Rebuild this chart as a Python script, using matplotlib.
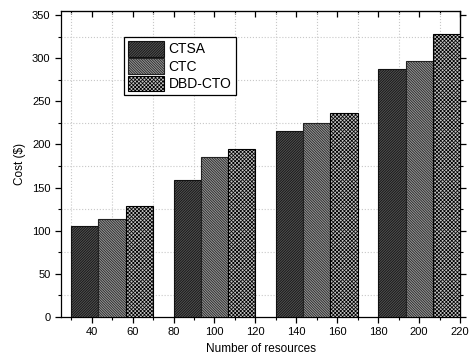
import matplotlib
matplotlib.use('Agg')
import matplotlib.pyplot as plt
import numpy as np

plt.rcParams['font.family'] = ['Liberation Sans', 'DejaVu Sans']
plt.rcParams['hatch.linewidth'] = 0.55

group_centers = [50, 100, 150, 200]
series_names = ['CTSA', 'CTC', 'DBD-CTO']
ctsa = [105, 159, 215, 287]
ctc = [114, 185, 225, 297]
dbd_cto = [129, 195, 237, 328]

bar_w = 40 / 3.0
faces = ['#505050', '#959595', '#c4c4c4']
hatches = ['/' * 13, '\\' * 13, 'x' * 9]
hatch_cols = ['#111111', '#222222', '#000000']

fig = plt.figure(figsize=(4.69, 3.62), dpi=100)
ax = fig.add_axes([0.130, 0.125, 0.851, 0.845])

x = np.array(group_centers, dtype=float)
for i, vals in enumerate([ctsa, ctc, dbd_cto]):
    ax.bar(x + (i - 1) * bar_w, vals, width=bar_w, facecolor=faces[i],
           edgecolor=hatch_cols[i], hatch=hatches[i], linewidth=0.8,
           label=series_names[i], zorder=3)

ax.set_xlim(25, 220)
ax.set_ylim(0, 355)
ax.set_xticks(range(40, 221, 20))
ax.set_xticks(range(30, 221, 20), minor=True)
ax.set_yticks(range(0, 351, 50))
ax.set_yticks(range(25, 351, 50), minor=True)

ax.grid(True, which='minor', linestyle=':', color='#c8c8c8', linewidth=0.8, zorder=0)
ax.grid(False, which='major')

ax.tick_params(axis='both', which='major', labelsize=8, length=4, width=0.9, direction='out')
ax.tick_params(axis='both', which='minor', length=2.5, width=0.8, direction='out')

# mirrored ticks on top (inward) and right (outward)
top = ax.secondary_xaxis('top')
top.set_xticks(range(40, 221, 20))
top.set_xticks(range(30, 221, 20), minor=True)
top.tick_params(which='major', direction='in', length=4, width=0.9, labeltop=False)
top.tick_params(which='minor', direction='in', length=2.5, width=0.8)
top.set_xticklabels([])
right = ax.secondary_yaxis('right')
right.set_yticks(range(0, 351, 50))
right.set_yticks(range(25, 351, 50), minor=True)
right.tick_params(which='major', direction='out', length=4, width=0.9)
right.tick_params(which='minor', direction='out', length=2.5, width=0.8)
right.set_yticklabels([])

for s in ax.spines.values():
    s.set_linewidth(0.9)

ax.set_xlabel('Number of resources', fontsize=8.5)
ax.set_ylabel('Cost ($)', fontsize=8.5)

leg = ax.legend(loc='upper left', bbox_to_anchor=(0.158, 0.915), fontsize=10,
                frameon=True, fancybox=False, edgecolor='black', framealpha=1,
                handlelength=2.6, handleheight=1.35, handletextpad=0.3,
                labelspacing=0.12, borderpad=0.3, borderaxespad=0)
leg.get_frame().set_linewidth(0.9)
leg.set_zorder(5)

fig.savefig('out.png', dpi=100)
